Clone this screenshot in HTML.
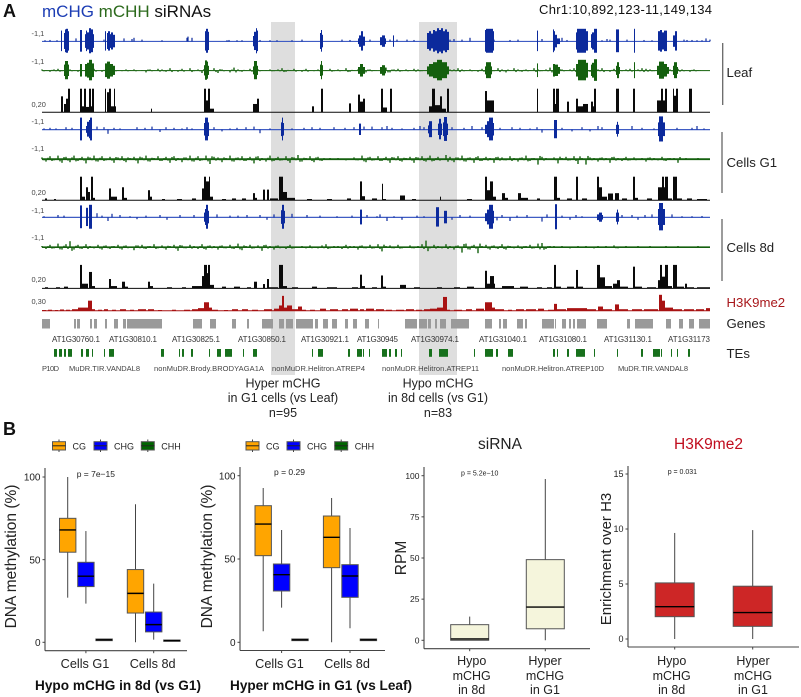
<!DOCTYPE html>
<html lang="en">
<head>
<meta charset="utf-8">
<title>Genome browser tracks and methylation boxplots</title>
<style>
html,body{margin:0;padding:0;background:#fff;width:801px;height:697px;overflow:hidden}
svg{display:block;filter:blur(.3px)}
text{font-family:"Liberation Sans",sans-serif}
</style>
</head>
<body>
<svg id="fig" xmlns="http://www.w3.org/2000/svg" width="801" height="697" viewBox="0 0 801 697">
<rect x="0" y="0" width="801" height="697" fill="#fff"/>
<rect x="271" y="22" width="24" height="353" fill="#dedede"/>
<rect x="419" y="22" width="38" height="353" fill="#dedede"/>
<g id="tracks"></g>
<g id="panels"></g>

<text x="3" y="17" font-size="18" font-weight="bold" fill="#111">A</text>
<text x="3" y="435" font-size="18" font-weight="bold" fill="#111">B</text>
<text x="42" y="17" font-size="17"><tspan fill="#1c3db4">mCHG</tspan><tspan fill="#2c6a1c"> mCHH</tspan><tspan fill="#111"> siRNAs</tspan></text>
<text x="539" y="14" font-size="13" fill="#111" textLength="173">Chr1:10,892,123-11,149,134</text>

<line x1="722.7" y1="43" x2="722.7" y2="105" stroke="#666" stroke-width="1.3"/>
<line x1="722" y1="132" x2="722" y2="193" stroke="#666" stroke-width="1.3"/>
<line x1="722" y1="219" x2="722" y2="281" stroke="#666" stroke-width="1.3"/>
<text x="726.5" y="77" font-size="13.2" fill="#222">Leaf</text>
<text x="726.5" y="167" font-size="13.2" fill="#222">Cells G1</text>
<text x="726.5" y="252" font-size="13.2" fill="#222">Cells 8d</text>
<text x="726.5" y="307" font-size="13.2" fill="#a8181c">H3K9me2</text>
<text x="726.5" y="328" font-size="13.2" fill="#222">Genes</text>
<text x="726.5" y="358" font-size="13.2" fill="#222">TEs</text>

<g font-size="7.4" fill="#444">
<text x="31.5" y="36">-1,1</text>
<text x="31.5" y="64">-1,1</text>
<text x="31.5" y="107">0,20</text>
<text x="31.5" y="124">-1,1</text>
<text x="31.5" y="151">-1,1</text>
<text x="31.5" y="195">0,20</text>
<text x="31.5" y="213">-1,1</text>
<text x="31.5" y="240">-1,1</text>
<text x="31.5" y="282">0,20</text>
<text x="31.5" y="304">0,30</text>
</g>

<g font-size="8" fill="#333">
<text x="52" y="342" textLength="48">AT1G30760.1</text>
<text x="109" y="342" textLength="48">AT1G30810.1</text>
<text x="172" y="342" textLength="48">AT1G30825.1</text>
<text x="238" y="342" textLength="48">AT1G30850.1</text>
<text x="301" y="342" textLength="48">AT1G30921.1</text>
<text x="357" y="342" textLength="41">AT1G30945</text>
<text x="411" y="342" textLength="48">AT1G30974.1</text>
<text x="479" y="342" textLength="48">AT1G31040.1</text>
<text x="539" y="342" textLength="48">AT1G31080.1</text>
<text x="604" y="342" textLength="48">AT1G31130.1</text>
<text x="668" y="342" textLength="42">AT1G31173</text>
</g>
<g font-size="7.5" fill="#444">
<text x="42" y="371" textLength="17">P10D</text>
<text x="69" y="371" textLength="71">MuDR.TIR.VANDAL8</text>
<text x="154" y="371" textLength="110">nonMuDR.Brody.BRODYAGA1A</text>
<text x="272" y="371" textLength="93">nonMuDR.Helitron.ATREP4</text>
<text x="382" y="371" textLength="97">nonMuDR.Helitron.ATREP11</text>
<text x="502" y="371" textLength="102">nonMuDR.Helitron.ATREP10D</text>
<text x="618" y="371" textLength="70">MuDR.TIR.VANDAL8</text>
</g>

<g font-size="12.5" fill="#222" text-anchor="middle">
<text x="283" y="387.5">Hyper mCHG</text>
<text x="283" y="402">in G1 cells (vs Leaf)</text>
<text x="283" y="417">n=95</text>
<text x="438" y="387.5">Hypo mCHG</text>
<text x="438" y="402">in 8d cells (vs G1)</text>
<text x="438" y="417">n=83</text>
</g>

<text x="500" y="449" font-size="15.5" text-anchor="middle" fill="#222">siRNA</text>
<text x="708.5" y="449" font-size="15.5" text-anchor="middle" fill="#c00d1e">H3K9me2</text>

<text transform="translate(16,556.5) rotate(-90)" font-size="15.5" text-anchor="middle" fill="#222">DNA methylation (%)</text>
<text transform="translate(212,556.5) rotate(-90)" font-size="15.5" text-anchor="middle" fill="#222">DNA methylation (%)</text>
<text transform="translate(406,558) rotate(-90)" font-size="15.5" text-anchor="middle" fill="#222">RPM</text>
<text transform="translate(611,559) rotate(-90)" font-size="15" text-anchor="middle" fill="#222">Enrichment over H3</text>

<text x="35" y="690" font-size="13.6" font-weight="bold" fill="#111" textLength="166">Hypo mCHG in 8d (vs G1)</text>
<text x="230" y="690" font-size="13.6" font-weight="bold" fill="#111" textLength="182">Hyper mCHG in G1 (vs Leaf)</text>

<text x="76.7" y="477" font-size="8.5" fill="#222">p = 7e−15</text>
<text x="274" y="475" font-size="8.5" fill="#222">p = 0.29</text>
<text x="461" y="475.5" font-size="7" fill="#222">p = 5.2e−10</text>
<text x="667.7" y="474" font-size="7" fill="#222">p = 0.031</text>

<g font-size="12.7" fill="#222" text-anchor="middle">
<text x="85" y="668">Cells G1</text>
<text x="152.7" y="668">Cells 8d</text>
<text x="279.5" y="668">Cells G1</text>
<text x="347" y="668">Cells 8d</text>
</g>
<g font-size="12.5" fill="#222" text-anchor="middle">
<text x="471.7" y="665">Hypo</text>
<text x="471.7" y="680">mCHG</text>
<text x="471.7" y="694">in 8d</text>
<text x="545" y="665">Hyper</text>
<text x="545" y="680">mCHG</text>
<text x="545" y="694">in G1</text>
<text x="671.7" y="665">Hypo</text>
<text x="671.7" y="680">mCHG</text>
<text x="671.7" y="694">in 8d</text>
<text x="753" y="665">Hyper</text>
<text x="753" y="680">mCHG</text>
<text x="753" y="694">in G1</text>
</g>
</svg>

<script>
/* ---------- genome tracks: [startBin, endBin, value]; a bin is one browser column of the 668-bin window ---------- */
const leafMchgBlocks = [[19,20,.9],[22,23,.7],[23,24,1],[24,26,1.05],[26,27,.85],[38,40,.95],[43,44,.6],[44,45,.9],[45,47,.75],[47,49,1.1],[49,51,1],[51,52,.6],[63,64,.85],[65,66,.7],[66,68,.85],[68,69,.6],[69,71,.75],[71,73,.55],[163,164,.85],[164,166,1.05],[166,167,.8],[211,212,.45],[212,214,.8],[214,215,1.1],[215,216,.9],[278,279,.7],[279,280,.95],[280,281,.55],[316,317,.25],[317,319,.5],[319,321,.85],[321,323,.4],[338,340,.35],[340,343,.5],[343,344,.25],[351,352,.5],[385,387,.7],[387,389,.85],[389,391,.65],[391,393,.95],[393,395,.85],[395,397,1.1],[397,399,.95],[399,401,1.1],[401,403,.85],[403,405,1],[405,407,.8],[443,444,.95],[444,451,1.05],[451,452,.85],[495,496,.9],[511,512,1],[512,513,.85],[513,515,.55],[515,518,.25],[534,535,.75],[535,544,1.05],[544,546,.85],[549,550,.6],[550,552,.75],[552,555,1.05],[574,577,1],[592,593,1.05],[616,618,.85],[618,620,.95],[620,622,.75],[622,625,.9],[631,633,.5],[633,635,.85]];
const leafMchhBlocks = [[22,23,.5],[23,26,.8],[26,27,.5],[38,40,.55],[43,45,.55],[45,47,.65],[47,50,.9],[50,52,.6],[63,65,.6],[65,68,.75],[68,71,.55],[71,73,.4],[162,163,.45],[163,165,.85],[165,166,.75],[166,167,.4],[211,212,.35],[212,215,.8],[215,216,.4],[278,279,.5],[279,280,.8],[280,281,.45],[316,318,.3],[318,321,.55],[321,323,.3],[338,340,.3],[340,343,.45],[343,344,.25],[385,387,.35],[387,391,.55],[391,395,.7],[395,400,.9],[400,405,.7],[405,407,.35],[443,444,.35],[444,449,.7],[449,450,.35],[495,496,.6],[511,513,.55],[513,516,.5],[516,518,.3],[534,536,.55],[536,544,.9],[544,546,.65],[549,550,.5],[550,552,.65],[552,555,.95],[574,575,.4],[575,577,.7],[577,578,.3],[592,593,.7],[615,617,.4],[617,622,.75],[622,625,.55],[625,627,.3],[631,632,.4],[632,635,.7],[635,636,.3]];
const g1MchgBlocks = [[38,40,1],[44,45,.3],[45,47,.65],[47,48,.8],[48,50,1],[162,163,.55],[163,166,1],[166,167,.6],[239,240,.6],[240,241,1],[241,242,.55],[317,319,.5],[386,387,.35],[387,390,.7],[396,397,.5],[397,399,.9],[399,400,.5],[401,402,.6],[402,405,1.05],[405,406,.5],[443,445,.4],[445,447,.7],[447,451,1],[451,452,.55],[512,515,.8],[574,575,.4],[575,576,.65],[576,577,.4],[616,617,.6],[617,621,1.1],[621,623,.6]];
const d8MchgBlocks = [[38,40,1],[44,46,.8],[47,50,1.05],[162,163,.4],[163,164,.7],[164,166,1.05],[166,167,.55],[239,240,.6],[240,242,1.05],[242,243,.55],[318,320,.65],[394,397,.85],[402,405,.55],[443,445,.35],[445,447,.65],[447,451,1.05],[451,452,.55],[513,515,1.1],[555,557,.25],[557,560,.4],[560,561,.2],[574,575,.4],[575,576,.65],[576,577,.4],[616,617,.7],[617,621,1.2],[621,623,.7]];

const leafMchgSpikes = [[3,.1],[8,.12],[15,.1],[34,.25],[62,.15],[82,.25],[90,.2],[92,.3],[100,.15],[120,.1],[146,.4],[150,.3],[145,.3],[185,.1],[187,.12],[195,.1],[200,.1],[218,.12],[228,.1],[235,.1],[250,.1],[260,.15],[300,.15],[308,.12],[328,.15],[348,.15],[355,.15],[365,.15],[372,.12],[408,.15],[412,.2],[420,.15],[428,.3],[452,.15],[468,.12],[476,.15],[500,.2],[520,.3],[525,.12],[560,.1],[565,.2],[568,.15],[585,.15],[602,.12],[610,.1],[642,.15],[650,.12],[655,.1],[645,.12],[660,.1],[664,.25],[668,.15]];
const g1MchgSpikes = [[2,.1],[8,.15],[14,.1],[24,.2],[30,.15],[55,.25],[62,.2],[66,-.35],[72,.15],[78,.1],[95,.2],[103,.15],[110,.25],[118,-.2],[124,.2],[132,.15],[140,.1],[145,.2],[150,.1],[172,.2],[180,-.15],[188,.1],[195,.15],[204,.2],[212,.25],[218,-.3],[228,.1],[250,.1],[262,.15],[270,.2],[278,.15],[292,.2],[303,.15],[312,.2],[322,.25],[330,.25],[340,.2],[345,.3],[350,.15],[360,.1],[372,.15],[378,.3],[382,.2],[410,.2],[422,.15],[430,.3],[440,.2],[458,.15],[470,.2],[478,.15],[488,.1],[495,.2],[500,-.25],[520,.15],[530,-.15],[540,.2],[548,-.15],[556,.3],[560,.2],[590,.3],[600,.15],[612,.1],[635,.15],[650,.15],[655,.3],[662,.1]];
const d8MchgSpikes = [[2,.1],[16,.2],[22,.15],[55,.35],[60,.15],[66,-.3],[70,.3],[78,.2],[88,.1],[95,-.15],[104,.15],[118,.2],[125,-.2],[138,.2],[152,.2],[175,.25],[188,.15],[196,.15],[205,.2],[218,.2],[225,-.2],[232,.25],[250,.3],[265,.2],[278,.15],[295,.1],[310,.15],[325,.2],[335,.1],[338,.25],[345,-.3],[352,.1],[360,-.2],[375,.15],[382,.1],[410,-.2],[418,.2],[428,.15],[455,-.25],[460,.2],[468,-.3],[475,.15],[485,.2],[500,-.35],[505,.25],[520,.15],[528,-.2],[534,.2],[540,.1],[580,.2],[590,.2],[596,-.2],[603,.2],[610,.25],[630,.25],[640,.1],[650,.1],[660,.12]];

const leafMchhNoise = [.1,.05,-.1,.1,.15,-.05,.05,.1,.05,-.1,.05,.1,-.05,.15,0,-.1,.2,-.05,.1,.05,-.05,.1,.05,.1,0,.05,-.15,.1,.05,.15,.1,-.1,.2,.05,-.1,.15,0,.2,-.05,.1,-.2,.15,.05,.2,-.2,.1,.05,-.15,.25,.1,-.1,.05,.15,-.1,.1,.05,.05,.1,-.05,.1,.2,-.1,.05,.15,.05,-.1,.15,.05,-.05,.1,.05,.05,.15,-.05,.1,.05,.2,-.1,.05,.1,.2,-.15,.1,.05,0,.1,.25,-.15,.1,.15,-.05,.1,.05,.15,.1,-.05,.05,.1,.15,.05,.2,-.15,.1,.1,.2,.1,.05,.1,.05,-.1,.15,.05,.1,-.05,.2,.1,-.15,.05,.2,.1,-.1,.1,.05,.2,.1,-.05,.1,.25,.1,-.2,.1,.05,.1,.2,-.05,.15,.1,-.1,.05,.1,.2,.05,-.1,.15,.05,-.05,.1,.15,.05,.1,.2,.15,.1,-.05,.1,.15,.05,.1,.05,.15,.1,.05,-.1,.1,.05];
const g1MchhNoise = [.15,-.2,.25,-.1,.3,-.3,.2,-.25,.3,-.15,.2,-.35,.15,.3,-.2,.25,-.1,.2,-.3,.15,.25,-.25,.1,.2,-.35,.15,.3,-.2,.1,.25,-.15,.2,-.3,.25,.1,-.25,.15,.3,-.2,.25,-.1,.3,-.4,.2,.15,-.25,.1,.3,-.2,.15,.25,-.15,.2,-.35,.25,.1,-.2,.3,-.15,.2,-.1,.25,-.3,.15,.35,-.2,.1,.25,-.25,.2,-.15,.05,.1,-.05,.1,.05,-.1,.05,.15,-.1,.3,-.25,.2,-.1,.25,-.15,.2,-.3,.15,.25,-.2,.1,.2,-.3,.15,.25,-.2,.3,-.15,.2,-.05,.35,.2,-.25,.15,.3,-.2,.15,-.3,.25,-.15,.2,.1,-.3,.2,.15,-.1,.25,.1,-.2,.15,.3,-.15,.1,-.45,.2,.1,-.05,.15,-.35,.1,.2,-.1,.25,-.4,.1,-.45,.15,.1,-.2,.15,.1,-.3,.2,.1,-.15,.2,-.1,.15,.05,.1,-.2,.15,.1,-.1,.2,-.15,.1,.1,-.3,.05,.1,.05,-.05,.1];
const d8MchhNoise = [.1,-.15,.2,-.1,.3,-.2,.25,.5,-.2,.2,-.15,.25,.1,-.1,.2,-.2,.15,-.15,.1,.2,-.2,.15,.05,-.25,.15,.2,-.15,.1,.25,-.1,.15,-.2,.1,.2,-.3,.15,-.1,.2,.1,-.15,.25,-.2,.15,.1,-.2,.15,-.1,.2,-.15,.3,-.25,.1,.2,-.1,.15,-.3,.2,.1,-.2,.15,.05,-.15,.2,-.1,.05,.1,-.1,.15,.05,-.1,.15,.25,-.1,.1,.1,-.15,.2,.1,.1,-.2,.15,-.1,.2,-.1,.25,-.35,.1,.15,-.1,.2,-.1,.05,.15,-.1,.1,.25,.55,-.1,.2,.1,-.1,.25,.1,-.2,.15,-.45,.3,-.2,.2,-.5,.1,.2,-.2,.15,-.15,.25,-.2,.1,-.1,.15,-.15,.1,.2,-.1,.3,.35,-.15,.1,.1,-.05,.1,.05,-.1,.05,.1,-.05,.1,.05,-.1,.1,.05,.1,-.05,.15,-.1,.05,.1,.05,-.05,.1,.05,-.05,.1,.05,-.05,.05,.1,-.05,.05,.1,.05,-.05,.05,.05,.1];

const leafSirnaBars = [[19,21,13.5],[22,24,7],[24,26,11.5],[26,28,20],[38,40,20],[40,42,5],[42,44,20],[44,47,4.5],[47,49,20],[49,50,5],[50,52,20],[63,64,20],[65,67,17],[67,69,20],[69,72,5],[72,73,20],[73,74,5],[109,110,3],[162,164,20],[164,166,10],[166,168,20],[168,172,3],[211,215,7],[215,217,11.5],[270,272,5],[279,281,20],[307,309,7.5],[316,318,15],[318,321,9],[321,323,11.5],[339,341,20],[341,345,4],[348,350,20],[387,390,5],[390,393,20],[393,398,6],[398,400,13.5],[400,404,3],[405,407,20],[443,445,18],[445,452,10],[495,496,20],[511,513,20],[513,514,7],[514,517,20],[525,527,9],[534,536,11.5],[536,541,5],[541,546,7],[549,551,9],[551,552,5],[552,554,20],[574,577,20],[591,593,20],[615,619,10],[619,621,20],[621,623,10],[623,625,20],[631,632,20],[632,634,14],[634,636,20],[647,650,20]];
const g1SirnaBars = [[3,5,1.5],[12,14,1],[38,40,20],[40,43,3],[44,46,11],[46,48,7],[49,51,20],[51,53,2],[67,69,10],[69,75,3],[80,82,11],[82,85,2],[106,108,8.5],[108,110,3],[120,123,1],[135,140,1],[150,154,1.5],[160,162,10],[162,164,20],[164,167,16],[167,168,20],[168,171,3],[180,184,1],[190,194,1.5],[200,204,1.5],[211,213,6],[213,215,2],[221,223,9],[225,227,9],[228,236,1.5],[237,241,20],[241,245,7],[245,253,2],[265,270,1],[285,290,1],[305,309,1.5],[318,320,16],[320,323,3.4],[330,335,1.5],[340,341,14],[341,344,1],[358,363,4],[370,374,1],[398,399,3],[425,430,1],[443,445,20],[445,448,8.5],[448,451,16],[451,454,3],[460,463,6],[463,466,2],[476,479,6],[479,486,2],[495,498,1.5],[512,515,20],[515,518,2],[525,530,1.5],[534,536,20],[540,545,1.5],[555,557,20],[557,560,11],[560,565,3],[566,571,5.7],[573,577,6],[580,585,1.5],[591,593,20],[593,596,2],[605,610,1.5],[616,620,11],[620,622,20],[622,623,11],[623,626,20],[626,630,1.5],[631,635,20],[635,640,1.5],[645,650,1.5],[655,665,1]];
const d8SirnaBars = [[3,6,1],[14,18,1],[22,26,1.5],[38,40,20],[40,46,4],[47,50,14],[50,53,2],[67,69,8],[69,75,2],[80,83,5.7],[83,86,1.5],[106,108,5.7],[108,111,2],[125,130,1],[140,144,1],[150,160,2],[160,162,10.5],[162,165,20],[165,166,13],[166,168,20],[168,172,3],[180,184,1.5],[192,198,1.5],[205,209,1],[212,215,5.7],[221,223,3.7],[225,227,8],[227,236,1],[237,241,20],[241,245,2],[250,256,1],[270,275,1.5],[285,295,1],[310,316,1],[318,320,11.7],[320,323,2],[330,335,1],[339,341,11],[341,344,1.5],[358,364,3],[372,378,1],[395,400,1],[412,418,1],[425,432,1.5],[443,445,15],[445,448,4],[448,452,10.5],[452,453,4],[460,472,2],[478,486,1.5],[495,500,1],[505,510,1],[512,514,20],[514,519,1.5],[525,532,1.5],[534,536,15.7],[536,541,1.5],[555,558,20],[558,563,9.4],[563,570,2],[571,575,4],[575,578,7],[578,586,1.5],[591,593,18.5],[593,600,1.5],[605,614,1],[616,618,7],[618,620,20],[620,623,10],[623,626,20],[626,630,2],[631,635,20],[635,642,1.5],[643,645,4],[645,652,1],[655,668,1]];
const h3k9Bars = [[0,4,1.5],[6,10,2],[13,16,1.5],[18,22,2.5],[24,28,2],[30,36,3],[36,46,6],[46,50,19],[50,53,3],[56,60,2],[62,66,3],[70,74,2],[78,84,3],[88,92,2],[96,104,3],[106,112,3],[116,120,1.5],[130,134,2],[142,148,2],[150,156,3],[156,162,5],[162,167,16],[167,170,6],[170,176,2],[182,186,1.5],[190,196,3],[200,206,3],[210,216,2],[222,230,3],[232,237,4],[237,240,10],[240,242,28],[242,245,6],[245,250,10],[250,256,3],[256,260,8],[260,264,2],[268,273,2],[278,284,4],[288,296,3],[300,306,3],[308,316,4],[318,322,3],[324,332,4],[334,342,3],[344,350,2],[354,362,2],[364,372,3],[374,380,2],[382,388,3],[388,395,4],[395,401,6],[401,405,26],[405,408,2],[412,420,2],[424,430,3],[434,442,4],[443,450,16],[450,453,6],[453,462,3],[466,470,2],[474,482,3],[484,494,3],[496,502,4],[506,512,2],[512,515,13],[515,524,3],[525,545,5],[545,554,3],[556,561,8],[561,570,3],[573,577,12],[577,586,3],[590,600,3],[602,616,3],[617,620,30],[620,623,19],[623,631,6],[631,640,3],[642,652,3],[654,662,3],[664,668,5]];

const geneBlocks = [[0,8],[32,34],[35,38],[48,50],[52,55],[63,65],[72,76],[81,84],[85,106],[106,120],[151,160],[168,174],[190,194],[205,207],[220,231],[237,242],[244,251],[254,271],[273,276],[281,286],[290,295],[303,306],[311,315],[323,327],[336,337],[363,375],[377,385],[386,389],[393,395],[398,404],[409,427],[443,450],[457,459],[461,465],[475,481],[483,485],[500,512],[513,514],[520,524],[527,529],[531,533],[535,544],[555,565],[585,588],[593,611],[624,629],[637,641],[647,652],[657,668]];
const teBlocks = [[12,15],[17,20],[22,24],[26,30],[39,41],[44,47],[50,51],[62,63],[67,72],[119,122],[137,138],[140,142],[149,151],[167,168],[175,179],[183,190],[201,202],[211,215],[270,271],[276,281],[306,308],[315,320],[321,322],[327,328],[340,345],[347,349],[353,355],[359,360],[387,390],[397,406],[432,433],[443,451],[454,456],[466,471],[511,513],[515,516],[525,527],[534,543],[552,553],[575,576],[599,601],[611,618],[619,620],[629,630],[635,636],[646,648]];

/* ---------- boxplots: [lower whisker, q1, median, q3, upper whisker] ---------- */
const hypoCategories = ['Cells G1','Cells 8d'];
const hypoCG  = [[27,54.5,68,75,100],[0,17.7,29.6,44,83.5]];
const hypoCHG = [[23.4,33.7,40,48.4,67.3],[1.6,6.3,10.7,18.3,35.5]];
const hypoCHH = [[1,1,1.5,2,2],[.5,.6,1,1.4,1.5]];
const hyperCG  = [[6.6,52,71,82,92.6],[0,44.8,63,75.8,86.6]];
const hyperCHG = [[20.8,30.8,40.6,47,67.4],[8.4,27,39.8,46.6,68.6]];
const hyperCHH = [[1,1,1.5,2,2],[1,1,1.5,2,2]];
const sirnaBoxes = [[0,0,.8,9.5,14.4],[0,7,20.2,49,98]];
const h3k9Boxes = [[0,2.03,2.94,5.1,9.64],[0,1.15,2.4,4.8,9.9]];
const methylTicks = [0,50,100];
const rpmTicks = [0,25,50,75,100];
const enrichTicks = [0,5,10,15];
const legendLabels = ['CG','CHG','CHH'];

/* ---------- axis functions ---------- */
const NS = 'http://www.w3.org/2000/svg';
const X0 = 42, X1 = 710, BINS = 668;
const binX = b => X0 + b * (X1 - X0) / BINS;
const methY = (base, v) => base - v * 12;
const tracks = document.getElementById('tracks');
const panels = document.getElementById('panels');

function mk(parent, tag, props) {
  const el = document.createElementNS(NS, tag);
  for (const k in props) el.setAttribute(k, props[k]);
  parent.appendChild(el);
  return el;
}
function rect(parent, name, x, y, w, h, fill) {
  const el = mk(parent, 'rect', {x: x, y: y, width: w, height: h, fill: fill});
  
  
  return el;
}
function line(parent, name, x1, y1, x2, y2, stroke, sw) {
  const el = mk(parent, 'line', {x1: x1, y1: y1, x2: x2, y2: y2, stroke: stroke, 'stroke-width': sw});
  
  
  return el;
}
function label(parent, name, x, y, str, size, fill, anchor) {
  const el = mk(parent, 'text', {x: x, y: y, 'font-size': size, fill: fill, 'text-anchor': anchor});
  el.textContent = str;
  
  
  return el;
}

/* ---------- methylation tracks ---------- */
function methTrack(name, base, lineColor, lineWidth, markColor, blocks, spikes, noise) {
  line(tracks, name + '-baseline', binX(0), base, binX(BINS), base, lineColor, lineWidth);
  (noise || []).forEach((v, i) => {
    const b = i * 4;
    line(tracks, name + '-signal', binX(b), base, binX(b), methY(base, v), markColor, 1.4);
    line(tracks, name + '-signal', binX(b + 2), base, binX(b + 2), methY(base, -v * .6), markColor, 1.4);
  });
  (spikes || []).forEach(s => {
    line(tracks, name + '-signal', binX(s[0]), base, binX(s[0]), methY(base, s[1]), markColor, 1.2);
  });
  blocks.forEach(b => {
    rect(tracks, name + '-block', binX(b[0]), methY(base, b[2]), binX(b[1]) - binX(b[0]), b[2] * 12 * 1.9, markColor);
  });
}
const BLUE_LINE = '#3f5cc4', BLUE = '#0c2a9c', GREEN_LINE = '#2f7326', GREEN = '#14600e';
methTrack('leaf-mchg', 41.4, BLUE_LINE, 1.1, BLUE, leafMchgBlocks, leafMchgSpikes);
methTrack('leaf-mchh', 70.6, GREEN_LINE, 1.1, GREEN, leafMchhBlocks, null, leafMchhNoise);
methTrack('g1-mchg', 129.6, BLUE_LINE, 1.3, BLUE, g1MchgBlocks, g1MchgSpikes);
methTrack('g1-mchh', 159.2, GREEN, 1.8, GREEN, [], null, g1MchhNoise);
methTrack('8d-mchg', 217.4, BLUE_LINE, 1.3, BLUE, d8MchgBlocks, d8MchgSpikes);
methTrack('8d-mchh', 247.2, GREEN, 1.6, GREEN, [], null, d8MchhNoise);

/* ---------- coverage tracks ---------- */
function barTrack(name, base, unit, color, bars) {
  line(tracks, name + '-baseline', binX(0), base, binX(BINS), base, color, 1);
  bars.forEach(b => {
    rect(tracks, name + '-bar', binX(b[0]), base - b[2] * unit, binX(b[1]) - binX(b[0]), b[2] * unit, color);
  });
}
barTrack('leaf-sirna', 112.2, 23.5 / 20, '#0a0a0a', leafSirnaBars);
barTrack('g1-sirna', 200.2, 23.5 / 20, '#0a0a0a', g1SirnaBars);
barTrack('8d-sirna', 288.4, 23.5 / 20, '#0a0a0a', d8SirnaBars);
barTrack('h3k9me2', 310.8, 16 / 30, '#a81212', h3k9Bars);

geneBlocks.forEach(g => {
  rect(tracks, 'gene-model', binX(g[0]), 319, binX(g[1]) - binX(g[0]), 9.5, '#9a9a9a');
});
teBlocks.forEach(t => {
  rect(tracks, 'te-model', binX(t[0]), 349, binX(t[1]) - binX(t[0]), 7.8, '#17701c');
});

/* ---------- boxplot panels ---------- */
function drawAxes(p, ticks) {
  const yv = v => p.y0 - v * p.unit;
  line(panels, p.name + '-y-axis', p.axisX, p.top, p.axisX, p.axisY, '#444', 1.1);
  line(panels, p.name + '-x-axis', p.axisX, p.axisY, p.right, p.axisY, '#444', 1.1);
  ticks.forEach(t => {
    line(panels, p.name + '-y-tick', p.axisX - 2.5, yv(t), p.axisX, yv(t), '#444', 1);
    label(panels, p.name + '-y-tick-label', p.axisX - 4.5, yv(t) + p.tickSize * .36, String(t), p.tickSize, '#222', 'end');
  });
  p.groups.forEach(g => {
    line(panels, p.name + '-x-tick', g, p.axisY, g, p.axisY + 2.5, '#444', 1);
  });
  return yv;
}
function drawBox(name, yv, cx, halfW, stats, fill) {
  line(panels, name + '-whisker', cx, yv(stats[0]), cx, yv(stats[4]), '#444', 1);
  const boxEl = rect(panels, name + '-box', cx - halfW, yv(stats[3]), halfW * 2, Math.max(yv(stats[1]) - yv(stats[3]), .5), fill);
  boxEl.setAttribute('stroke', '#555');
  boxEl.setAttribute('stroke-width', '1');
  line(panels, name + '-median', cx - halfW, yv(stats[2]), cx + halfW, yv(stats[2]), '#000', 1.4);
}
function drawGrouped(p, ticks, cg, chg, chh) {
  const yv = drawAxes(p, ticks);
  const fills = ['#ffa500', '#0000ff', '#006400'];
  p.groups.forEach((g, i) => {
    [cg, chg, chh].forEach((series, s) => {
      drawBox(p.name + '-' + legendLabels[s].toLowerCase() + '-' + i, yv, g + (s - 1) * p.dodge, 8.2, series[i], fills[s]);
    });
  });
  legendLabels.forEach((lab, s) => {
    const lx = p.legendX[s];
    line(panels, p.name + '-legend-whisker', lx + 6.5, 439.5, lx + 6.5, 452, '#444', 1);
    const keyEl = rect(panels, p.name + '-legend-key', lx, 441.7, 13, 8.3, fills[s]);
    keyEl.setAttribute('stroke', '#555');
    keyEl.setAttribute('stroke-width', '1');
    line(panels, p.name + '-legend-median', lx, 445.8, lx + 13, 445.8, '#222', 1);
    label(panels, p.name + '-legend-label', lx + 20, 449.3, lab, 9, '#222', 'start');
  });
}

drawGrouped({name:'hypo-panel', y0:642.3, unit:1.653, axisX:45, top:468, axisY:650.7, right:187, groups:[85.9,153.7], dodge:18.2, tickSize:10, legendX:[52.5,94,141.3]}, methylTicks, hypoCG, hypoCHG, hypoCHH);
drawGrouped({name:'hyper-panel', y0:642.3, unit:1.666, axisX:240, top:467, axisY:650.5, right:385, groups:[281.6,350], dodge:18.4, tickSize:10, legendX:[246,287,334.7]}, methylTicks, hyperCG, hyperCHG, hyperCHH);

const sirnaPanel = {name:'sirna-panel', y0:640.3, unit:1.646, axisX:424, top:467, axisY:648.7, right:590, groups:[469.7,545.3], tickSize:8.5};
const sirnaY = drawAxes(sirnaPanel, rpmTicks);
sirnaBoxes.forEach((b, i) => {
  drawBox('sirna-' + i, sirnaY, sirnaPanel.groups[i], 19, b, '#f5f5dc');
});
const h3k9Panel = {name:'h3k9me2-panel', y0:639, unit:11, axisX:628, top:466, axisY:647, right:799, groups:[674.7,752.7], tickSize:9};
const h3k9Y = drawAxes(h3k9Panel, enrichTicks);
h3k9Boxes.forEach((b, i) => {
  drawBox('h3k9me2-' + i, h3k9Y, h3k9Panel.groups[i], 19.5, b, '#cd2626');
});
</script>
</body>
</html>
